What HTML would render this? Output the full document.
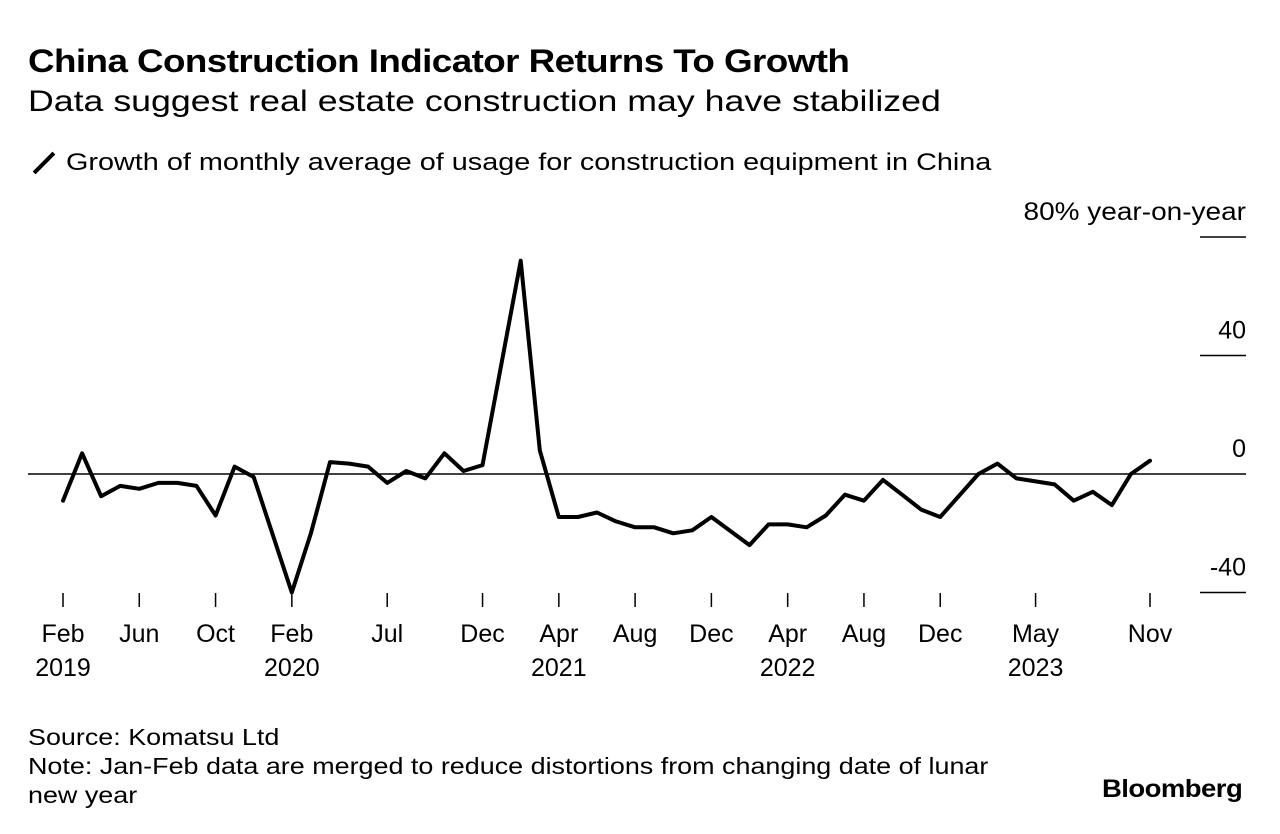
<!DOCTYPE html>
<html><head><meta charset="utf-8">
<style>
body{margin:0;background:#fff;font-family:"Liberation Sans",sans-serif;color:#000;}
.wrap{position:relative;width:1280px;height:834px;overflow:hidden;}
.t{position:absolute;white-space:nowrap;transform-origin:0 0;}
</style></head>
<body><div class="wrap">
<div class="t" style="left:28px;top:43px;font-size:32px;font-weight:bold;letter-spacing:-0.5px;transform:scaleX(1.15)">China Construction Indicator Returns To Growth</div>
<div class="t" style="left:28px;top:85px;font-size:30px;transform:scaleX(1.19)">Data suggest real estate construction may have stabilized</div>
<div class="t" style="left:30px;top:161px;width:28px;height:4px;background:#000;transform:rotate(-45deg);transform-origin:50% 50%"></div>
<div class="t" style="left:66px;top:149px;font-size:24px;transform:scaleX(1.2)">Growth of monthly average of usage for construction equipment in China</div>
<svg id="chart" width="1280" height="834" style="position:absolute;left:0;top:0"></svg>
<div class="t" style="left:28px;top:723px;font-size:23px;line-height:29px;transform:scaleX(1.17)">Source: Komatsu Ltd<br>Note: Jan-Feb data are merged to reduce distortions from changing date of lunar<br>new year</div>
<div class="t" style="left:1102px;top:775px;font-size:25px;font-weight:bold;letter-spacing:-0.5px;transform:scaleX(1.1)">Bloomberg</div>
</div>
<script>
const months=["2019-02","2019-03","2019-04","2019-05","2019-06","2019-07","2019-08","2019-09","2019-10","2019-11","2019-12",
"2020-02","2020-03","2020-04","2020-05","2020-06","2020-07","2020-08","2020-09","2020-10","2020-11","2020-12",
"2021-02","2021-03","2021-04","2021-05","2021-06","2021-07","2021-08","2021-09","2021-10","2021-11","2021-12",
"2022-02","2022-03","2022-04","2022-05","2022-06","2022-07","2022-08","2022-09","2022-10","2022-11","2022-12",
"2023-02","2023-03","2023-04","2023-05","2023-06","2023-07","2023-08","2023-09","2023-10","2023-11"];
const values=[-9,7,-7.5,-4,-5,-3,-3,-4,-14,2.5,-1,
-40,-20,4,3.5,2.5,-3,1,-1.5,7,1,3,
72,8,-14.5,-14.5,-13,-16,-18,-18,-20,-19,-14.5,
-24,-17,-17,-18,-14,-7,-9,-2,-7,-12,-14.5,
0,3.5,-1.5,-2.5,-3.5,-9,-6,-10.5,0,4.5];
const yTicks=[80,40,0,-40];
const yTickLabels=["80% year-on-year","40","0","-40"];
const xTicks=["2019-02","2019-06","2019-10","2020-02","2020-07","2020-12","2021-04","2021-08","2021-12","2022-04","2022-08","2022-12","2023-05","2023-11"];
const xTickLabels=[["Feb","2019"],["Jun",""],["Oct",""],["Feb","2020"],["Jul",""],["Dec",""],["Apr","2021"],["Aug",""],["Dec",""],["Apr","2022"],["Aug",""],["Dec",""],["May","2023"],["Nov",""]];
const svg=document.getElementById('chart');
const NS="http://www.w3.org/2000/svg";
function mi(s){const [y,m]=s.split('-').map(Number);return (y-2019)*12+(m-2);}
const x0=63,x1=1150,n=mi("2023-11");
function xs(s){return x0+(x1-x0)*mi(s)/n;}
function ys(v){return 474-v*(118.5/40);}
function mk(tag,attrs){const e=document.createElementNS(NS,tag);for(const k in attrs)e.setAttribute(k,attrs[k]);svg.appendChild(e);return e;}
yTicks.forEach((v,i)=>{
  const y=ys(v);
  const l=mk('line',{x1:v===0?28:1200,x2:1246,y1:y,y2:y,stroke:'#000','stroke-width':1.5});
  
  
  const t=mk('text',{x:1246,y:y-17,'text-anchor':'end','font-size':25,'font-family':'Liberation Sans, sans-serif'});
  t.textContent=yTickLabels[i];
  if(i===0)t.setAttribute('transform','translate(1246,0) scale(1.12,1) translate(-1246,0)');
  
  
});
xTicks.forEach((s,i)=>{
  const x=xs(s);
  const l=mk('line',{x1:x,x2:x,y1:593,y2:607,stroke:'#000','stroke-width':1.5});
  
  
  xTickLabels[i].forEach((txt,j)=>{
    if(!txt)return;
    const t=mk('text',{x:x,y:642+j*34,'text-anchor':'middle','font-size':25,'font-family':'Liberation Sans, sans-serif'});
    t.textContent=txt;
    
    
  });
});
const d=months.map((m,i)=>(i?'L':'M')+xs(m).toFixed(1)+','+ys(values[i]).toFixed(1)).join(' ');
const p=mk('path',{d:d,fill:'none',stroke:'#000','stroke-width':4,'stroke-linejoin':'round','stroke-linecap':'round'});


</script>
</body></html>
